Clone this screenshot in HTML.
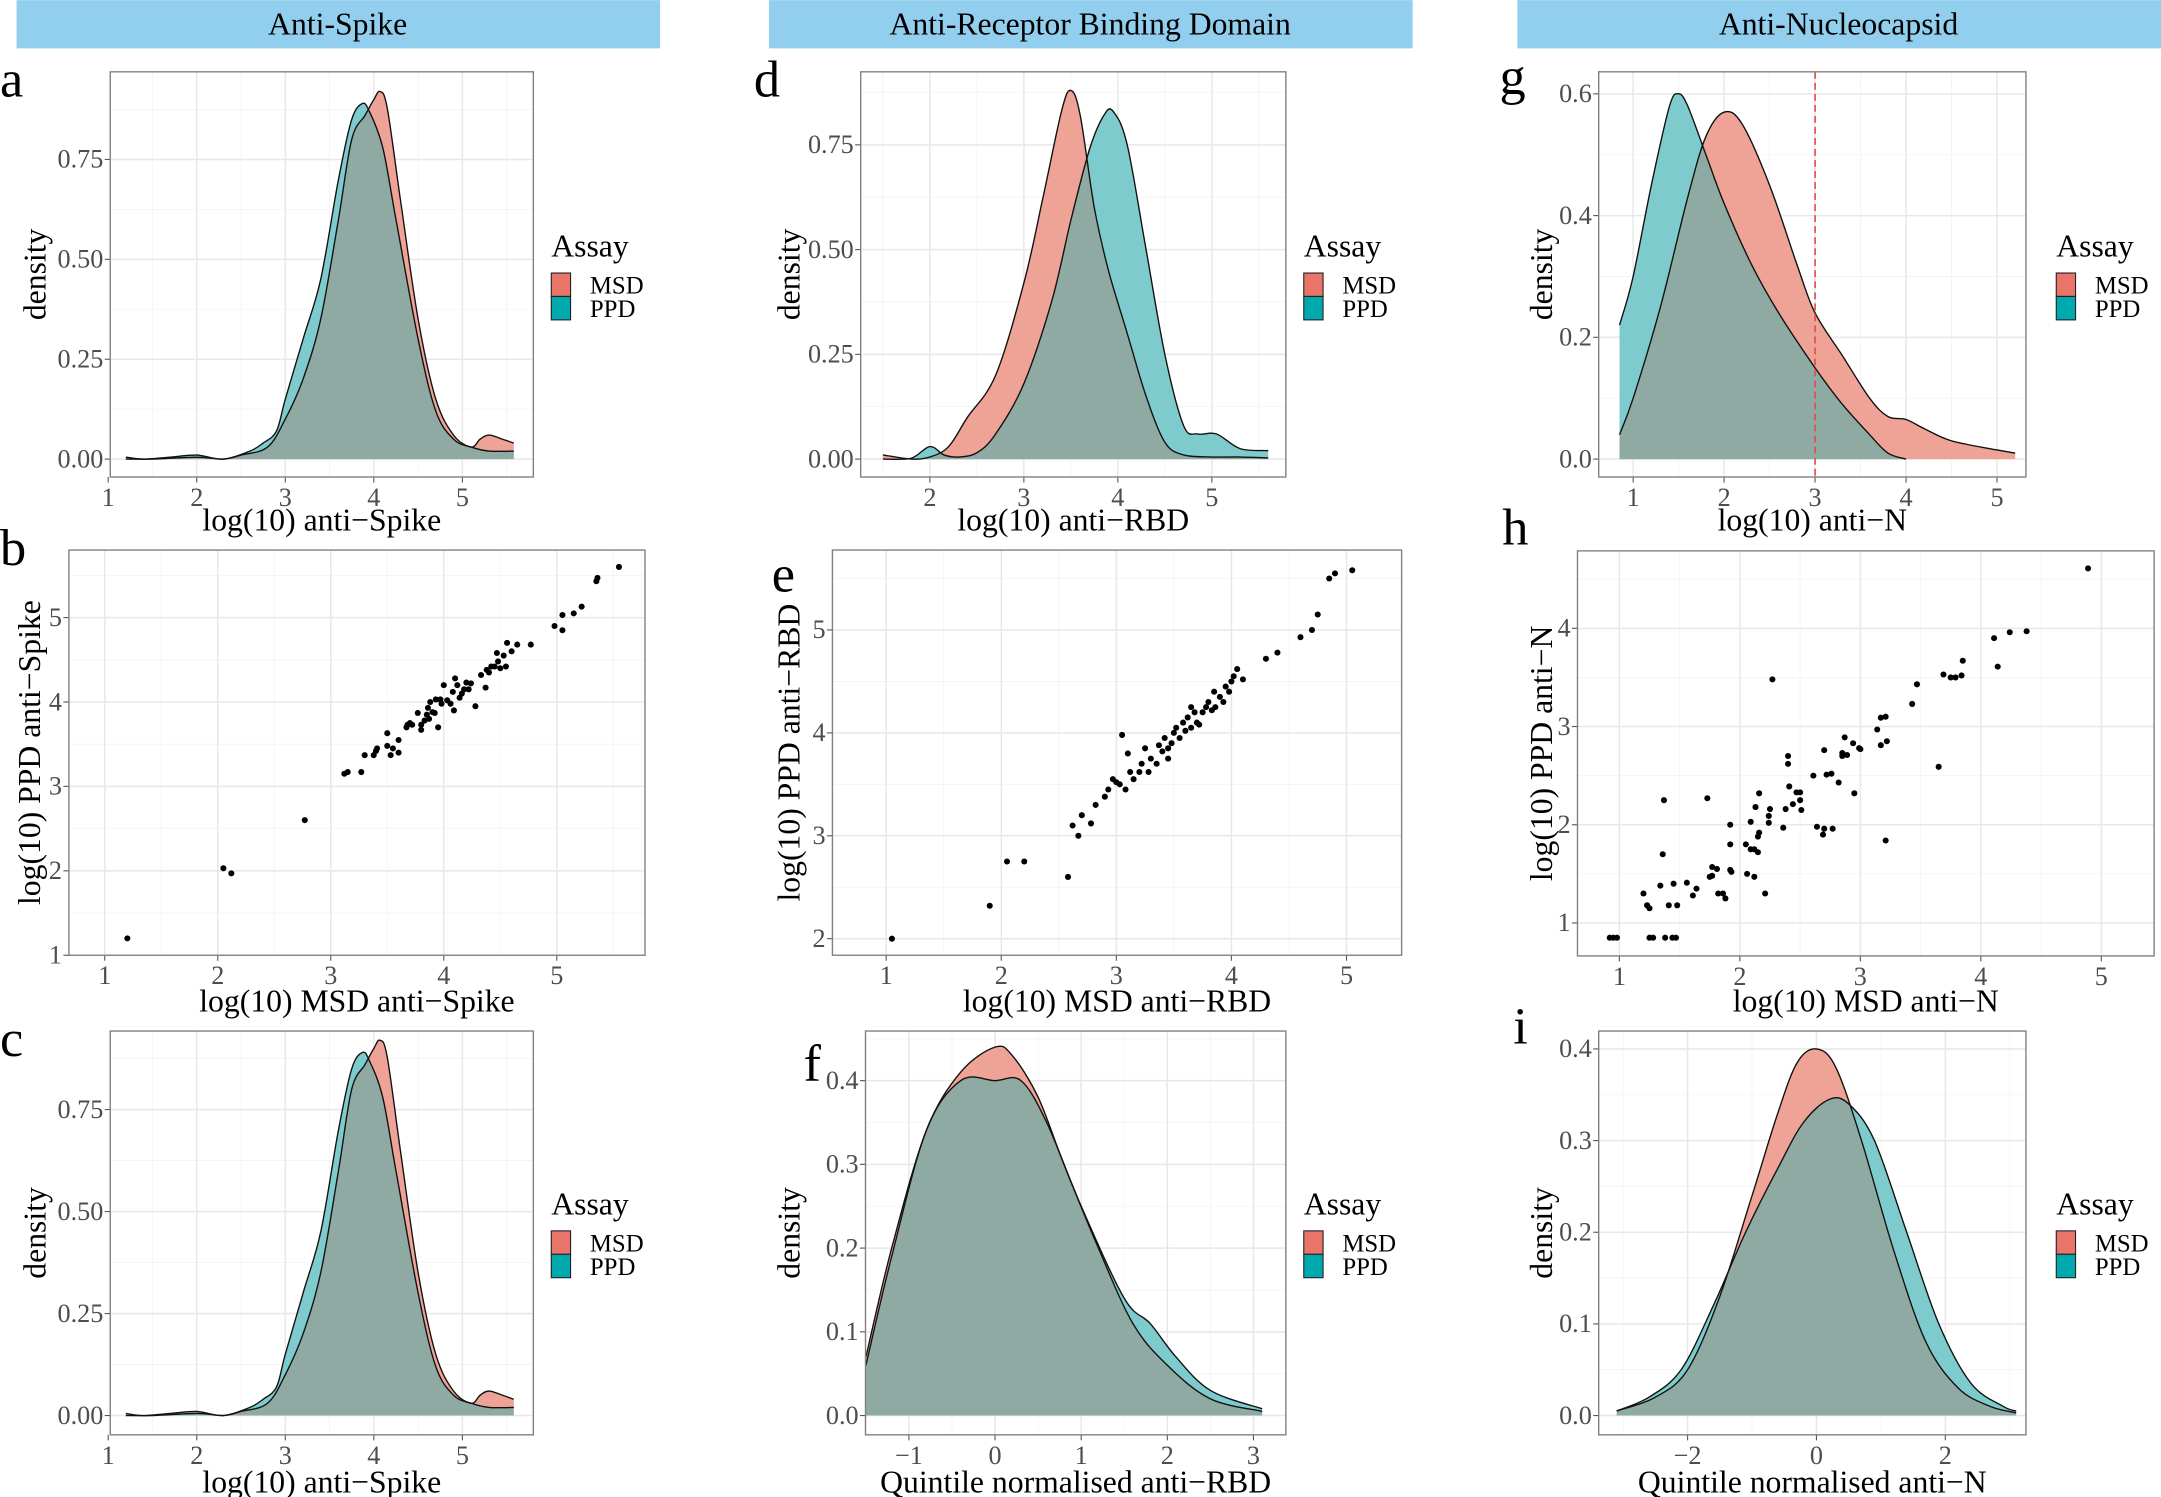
<!DOCTYPE html>
<html><head><meta charset="utf-8"><style>
html,body{margin:0;padding:0;background:#fff}
svg{display:block}
text{font-family:"Liberation Serif",serif}
</style></head><body>
<svg id="s" width="2161" height="1497" viewBox="0 0 1568 1086" xmlns="http://www.w3.org/2000/svg">
<defs id="defs"></defs>
<rect x="0" y="0" width="1568" height="1086" fill="#fff"/>
<rect x="12" y="0" width="467" height="35" fill="#92cfee"/>
<rect x="558" y="0" width="467" height="35" fill="#92cfee"/>
<rect x="1101" y="0" width="467" height="35" fill="#92cfee"/>
<text x="245" y="25" font-size="23" text-anchor="middle">Anti-Spike</text>
<text x="791" y="25" font-size="23" text-anchor="middle">Anti-Receptor Binding Domain</text>
<text x="1334" y="25" font-size="23" text-anchor="middle">Anti-Nucleocapsid</text>
<g font-size="38">
<text x="0" y="70">a</text><text x="0" y="410">b</text><text x="0" y="766">c</text>
<text x="547" y="70">d</text><text x="560" y="429">e</text><text x="583" y="784">f</text>
<text x="1088" y="68">g</text><text x="1090" y="395">h</text><text x="1098" y="757">i</text>
</g>
<g id="g"></g>
</svg>
<script>
var NS="http://www.w3.org/2000/svg",G=document.getElementById("g"),D=document.getElementById("defs"),CID=0;
function el(t,a,txt,par){var e=document.createElementNS(NS,t);for(var k in a)e.setAttribute(k,a[k]);if(txt!=null)e.textContent=txt;(par||G).appendChild(e);return e;}
function lin(c){var s=(c[3]-c[1])/(c[2]-c[0]);return function(v){return c[1]+s*(v-c[0]);};}
function smooth(pts){var d="M"+pts[0][0].toFixed(1)+","+pts[0][1].toFixed(1);
for(var i=0;i<pts.length-1;i++){var p0=pts[i-1]||pts[i],p1=pts[i],p2=pts[i+1],p3=pts[i+2]||p2;
var c1x=p1[0]+(p2[0]-p0[0])/6,c1y=p1[1]+(p2[1]-p0[1])/6,c2x=p2[0]-(p3[0]-p1[0])/6,c2y=p2[1]-(p3[1]-p1[1])/6;
d+=" C"+c1x.toFixed(1)+","+c1y.toFixed(1)+" "+c2x.toFixed(1)+","+c2y.toFixed(1)+" "+p2[0].toFixed(1)+","+p2[1].toFixed(1);}return d;}
function fmt(v,dec){return (v<0?"\u2212":"")+Math.abs(v).toFixed(dec);}
function panel(c){
 var X=lin(c.X),Y=lin(c.Y),b=c.box;
 el("rect",{x:b[0],y:b[1],width:b[2]-b[0],height:b[3]-b[1],fill:"#fff"});
 c.xm.forEach(function(v){var p=X(v);if(p>b[0]&&p<b[2])el("line",{x1:p,x2:p,y1:b[1],y2:b[3],stroke:"#f3f3f3","stroke-width":0.6});});
 c.ym.forEach(function(v){var p=Y(v);if(p>b[1]&&p<b[3])el("line",{y1:p,y2:p,x1:b[0],x2:b[2],stroke:"#f3f3f3","stroke-width":0.6});});
 c.xt.forEach(function(v){var p=X(v);if(p>=b[0]&&p<=b[2])el("line",{x1:p,x2:p,y1:b[1],y2:b[3],stroke:"#e8e8e8","stroke-width":1.1});
  el("line",{x1:p,x2:p,y1:b[3],y2:b[3]+4,stroke:"#555","stroke-width":0.8});
  el("text",{x:p,y:b[3]+21,"font-size":19,fill:"#4d4d4d","text-anchor":"middle"},fmt(v,0));});
 c.yt.forEach(function(v){var p=Y(v);if(p>=b[1]&&p<=b[3])el("line",{y1:p,y2:p,x1:b[0],x2:b[2],stroke:"#e8e8e8","stroke-width":1.1});
  el("line",{y1:p,y2:p,x1:b[0]-4,x2:b[0],stroke:"#555","stroke-width":0.8});
  el("text",{x:b[0]-5,y:p+6,"font-size":19,fill:"#4d4d4d","text-anchor":"end"},fmt(v,c.yd));});
 if(c.dens){var y0=Y(0),ds=[],fs=[];
  c.dens.forEach(function(s){var pts=s.map(function(q){return [X(q[0]),Y(q[1])];});
   var d=smooth(pts);ds.push(d);fs.push(d+" L"+pts[pts.length-1][0].toFixed(1)+","+y0+" L"+pts[0][0].toFixed(1)+","+y0+" Z");});
  el("path",{d:fs[0],fill:"#efa396"});el("path",{d:fs[1],fill:"#7ecbce"});
  var id="cp"+(CID++);var cp=el("clipPath",{id:id},null,D);el("path",{d:fs[1]},null,cp);
  el("path",{d:fs[0],fill:"#8faaa3","clip-path":"url(#"+id+")"});
  ds.forEach(function(d){el("path",{d:d,fill:"none",stroke:"#111","stroke-width":1});});}
 if(c.vline)el("line",{x1:X(c.vline),x2:X(c.vline),y1:b[1],y2:b[3],stroke:"#e0504a","stroke-width":1.2,"stroke-dasharray":"5,3"});
 if(c.pts)c.pts.forEach(function(q){el("circle",{cx:X(q[0]),cy:Y(q[1]),r:2.2,fill:"#000"});});
 el("rect",{x:b[0],y:b[1],width:b[2]-b[0],height:b[3]-b[1],fill:"none",stroke:"#7f7f7f","stroke-width":1});
 el("text",{x:(b[0]+b[2])/2,y:c.xty,"font-size":23,"text-anchor":"middle"},c.xl);
 el("text",{x:0,y:0,"font-size":23,"text-anchor":"middle",transform:"translate("+c.ylx+","+((b[1]+b[3])/2)+") rotate(-90)"},c.yl);
 if(c.leg){var L=c.leg;el("text",{x:L[0],y:L[1],"font-size":23},"Assay");
  el("rect",{x:L[0],y:L[1]+12,width:14,height:17,fill:"#e8746a",stroke:"#222","stroke-width":0.8});
  el("rect",{x:L[0],y:L[1]+29,width:14,height:17,fill:"#00a9ad",stroke:"#222","stroke-width":0.8});
  el("text",{x:L[0]+28,y:L[1]+27,"font-size":18},"MSD");el("text",{x:L[0]+28,y:L[1]+44,"font-size":18},"PPD");}
}
var aM=[[1.2,0],[1.5,0],[2,0.005],[2.3,0],[2.5,0.01],[2.8,0.03],[3.0,0.1],[3.2,0.2],[3.4,0.35],[3.6,0.6],[3.75,0.8],[3.9,0.86],[4.0,0.9],[4.07,0.92],[4.15,0.88],[4.3,0.65],[4.5,0.35],[4.7,0.15],[4.9,0.06],[5.1,0.03],[5.2,0.05],[5.3,0.06],[5.45,0.05],[5.58,0.04]];
var aP=[[1.2,0.005],[1.4,0],[1.7,0.005],[2.0,0.01],[2.3,0],[2.6,0.02],[2.75,0.04],[2.9,0.07],[3.0,0.15],[3.2,0.3],[3.4,0.45],[3.6,0.7],[3.75,0.85],[3.87,0.89],[3.95,0.87],[4.1,0.78],[4.25,0.6],[4.5,0.3],[4.7,0.12],[4.9,0.05],[5.1,0.03],[5.3,0.02],[5.58,0.02]];
var x15=[0.5,1.5,2.5,3.5,4.5,5.5];
var yd4=[0,0.25,0.5,0.75],ym4=[0.125,0.375,0.625,0.875];
panel({box:[80,52,387,346],X:[1,78.5,5,335.5],Y:[0,333,0.75,115.6],xt:[1,2,3,4,5],xm:x15,yt:yd4,ym:ym4,yd:2,dens:[aM,aP],xl:"log(10) anti\u2212Spike",xty:385,yl:"density",ylx:33,leg:[400,186]});
panel({box:[80,748,387,1041],X:[1,78.5,5,335.5],Y:[0,1027,0.75,805],xt:[1,2,3,4,5],xm:x15,yt:yd4,ym:ym4,yd:2,dens:[aM,aP],xl:"log(10) anti\u2212Spike",xty:1083,yl:"density",ylx:33,leg:[400,881]});
var bP=[[1.2,1.2],[2.05,2.03],[2.12,1.97],[2.77,2.6],[3.12,3.15],[3.15,3.17],[3.27,3.17],[3.3,3.37],[3.38,3.37],[3.4,3.42],[3.41,3.45],[3.5,3.63],[3.5,3.48],[3.53,3.37],[3.55,3.45],[3.6,3.55],[3.6,3.4],[3.67,3.7],[3.68,3.73],[3.7,3.75],[3.72,3.73],[3.77,3.87],[3.8,3.67],[3.8,3.73],[3.83,3.78],[3.85,3.85],[3.86,3.93],[3.87,3.8],[3.88,4.0],[3.9,3.88],[3.92,3.87],[3.93,4.03],[3.95,3.7],[3.97,4.03],[3.98,3.98],[4.0,4.2],[4.03,4.02],[4.06,3.98],[4.08,4.12],[4.09,3.9],[4.1,4.28],[4.12,4.2],[4.14,4.05],[4.16,4.1],[4.18,4.15],[4.2,4.23],[4.22,4.15],[4.24,4.22],[4.28,3.95],[4.33,4.32],[4.37,4.17],[4.38,4.38],[4.4,4.35],[4.42,4.42],[4.45,4.42],[4.47,4.58],[4.48,4.48],[4.5,4.4],[4.53,4.55],[4.55,4.42],[4.56,4.7],[4.6,4.6],[4.65,4.68],[4.77,4.68],[4.98,4.9],[5.05,5.03],[5.05,4.85],[5.15,5.05],[5.22,5.13],[5.35,5.43],[5.36,5.47],[5.55,5.6]];
panel({box:[50,399,468,693],X:[1,76,5,404],Y:[1,693,5,448],xt:[1,2,3,4,5],xm:x15,yt:[1,2,3,4,5],ym:x15,yd:0,pts:bP,xl:"log(10) MSD anti\u2212Spike",xty:734,yl:"log(10) PPD anti\u2212Spike",ylx:29});
var dM=[[1.5,0.01],[1.8,0],[2.0,0.005],[2.2,0.03],[2.4,0.1],[2.7,0.2],[3.0,0.42],[3.2,0.62],[3.4,0.83],[3.5,0.88],[3.6,0.82],[3.75,0.6],[3.9,0.45],[4.1,0.3],[4.3,0.15],[4.5,0.04],[4.7,0.01],[5.0,0.005],[5.3,0.005],[5.6,0.003]];
var dP=[[1.5,0],[1.8,0.002],[2.0,0.03],[2.15,0.01],[2.3,0.005],[2.5,0.015],[2.7,0.06],[3.0,0.18],[3.3,0.38],[3.5,0.57],[3.7,0.74],[3.85,0.82],[3.95,0.83],[4.1,0.75],[4.3,0.5],[4.5,0.25],[4.7,0.08],[4.85,0.06],[5.05,0.06],[5.3,0.025],[5.6,0.02]];
panel({box:[624.5,52,933,346],X:[2,674.7,5,879.3],Y:[0,333,0.75,105],xt:[2,3,4,5],xm:x15,yt:yd4,ym:ym4,yd:2,dens:[dM,dP],xl:"log(10) anti\u2212RBD",xty:385,yl:"density",ylx:580,leg:[946,186]});
var eP=[[1.05,2.0],[1.9,2.32],[2.05,2.75],[2.2,2.75],[2.58,2.6],[2.62,3.1],[2.67,3.0],[2.7,3.2],[2.78,3.12],[2.82,3.3],[2.9,3.38],[2.93,3.45],[2.97,3.55],[3.0,3.52],[3.03,3.5],[3.05,3.98],[3.08,3.45],[3.12,3.62],[3.15,3.55],[3.2,3.62],[3.22,3.7],[3.28,3.62],[3.3,3.75],[3.35,3.7],[3.37,3.88],[3.4,3.82],[3.42,3.95],[3.45,3.85],[3.48,3.9],[3.5,4.0],[3.52,4.05],[3.55,3.95],[3.58,4.1],[3.6,4.02],[3.62,4.15],[3.65,4.05],[3.68,4.2],[3.7,4.1],[3.72,4.08],[3.75,4.2],[3.78,4.25],[3.8,4.3],[3.83,4.22],[3.86,4.25],[3.9,4.35],[3.93,4.3],[3.95,4.45],[3.98,4.4],[4.0,4.5],[4.02,4.55],[4.05,4.62],[4.3,4.72],[4.4,4.78],[4.6,4.93],[4.7,5.0],[4.75,5.15],[4.85,5.5],[4.9,5.55],[5.05,5.58],[3.1,3.8],[3.25,3.85],[3.45,3.75],[3.65,4.25],[3.85,4.4],[4.1,4.52]];
panel({box:[604,399,1017,693],X:[1,643,5,977],Y:[2,681,5,457],xt:[1,2,3,4,5],xm:x15,yt:[2,3,4,5],ym:[1.5,2.5,3.5,4.5,5.5],yd:0,pts:eP,xl:"log(10) MSD anti\u2212RBD",xty:734,yl:"log(10) PPD anti\u2212RBD",ylx:580});
var fM=[[-1.5,0.07],[-1.2,0.2],[-0.8,0.34],[-0.4,0.41],[0,0.44],[0.2,0.43],[0.5,0.38],[0.8,0.3],[1.2,0.2],[1.6,0.11],[2.0,0.06],[2.5,0.02],[3.1,0.005]];
var fP=[[-1.5,0.06],[-1.2,0.19],[-0.8,0.34],[-0.4,0.40],[0,0.40],[0.3,0.40],[0.6,0.35],[1.0,0.25],[1.5,0.14],[1.8,0.11],[2.1,0.07],[2.5,0.03],[3.1,0.008]];
var y04=[0,0.1,0.2,0.3,0.4],ym04=[0.05,0.15,0.25,0.35,0.45];
panel({box:[628,748,933,1041],X:[0,722,1,784.5],Y:[0,1027,0.4,784],xt:[-1,0,1,2,3],xm:[-1.5,-0.5,0.5,1.5,2.5],yt:y04,ym:ym04,yd:1,dens:[fM,fP],xl:"Quintile normalised anti\u2212RBD",xty:1083,yl:"density",ylx:580,leg:[946,881]});
var gM=[[0.85,0.04],[1.0,0.1],[1.3,0.25],[1.6,0.43],[1.8,0.53],[2.0,0.57],[2.2,0.55],[2.5,0.45],[2.8,0.32],[3.0,0.24],[3.3,0.17],[3.6,0.1],[3.8,0.07],[4.0,0.065],[4.2,0.05],[4.5,0.03],[5.0,0.015],[5.2,0.01]];
var gP=[[0.85,0.22],[1.0,0.3],[1.2,0.45],[1.4,0.58],[1.5,0.6],[1.6,0.58],[1.8,0.5],[2.0,0.42],[2.3,0.32],[2.6,0.24],[3.0,0.15],[3.3,0.09],[3.6,0.04],[3.8,0.01],[4.0,0.0]];
panel({box:[1160,52,1470,346],X:[1,1185,5,1449],Y:[0,333,0.6,68],xt:[1,2,3,4,5],xm:x15,yt:[0,0.2,0.4,0.6],ym:[0.1,0.3,0.5],yd:1,dens:[gM,gP],vline:3,xl:"log(10) anti\u2212N",xty:385,yl:"density",ylx:1126,leg:[1492,186]});
var hP=[[0.92,0.85],[0.95,0.85],[0.98,0.85],[1.25,0.85],[1.28,0.85],[1.38,0.85],[1.44,0.85],[1.47,0.85],[1.2,1.3],[1.23,1.18],[1.25,1.15],[1.34,1.38],[1.37,2.25],[1.36,1.7],[1.41,1.18],[1.45,1.4],[1.48,1.18],[1.56,1.41],[1.61,1.28],[1.64,1.35],[1.73,2.27],[1.75,1.47],[1.77,1.48],[1.77,1.57],[1.81,1.55],[1.82,1.3],[1.86,1.3],[1.88,1.25],[1.92,2.0],[1.92,1.8],[1.92,1.54],[1.93,1.52],[2.05,1.8],[2.06,1.5],[2.09,2.03],[2.09,1.75],[2.12,1.75],[2.12,1.47],[2.13,2.18],[2.15,1.72],[2.15,1.88],[2.16,1.92],[2.16,2.32],[2.21,1.3],[2.24,2.09],[2.24,2.02],[2.25,2.16],[2.27,3.48],[2.36,1.97],[2.38,2.16],[2.4,2.7],[2.4,2.62],[2.41,2.39],[2.44,2.21],[2.47,2.33],[2.5,2.33],[2.5,2.25],[2.51,2.15],[2.61,2.5],[2.64,1.98],[2.69,1.9],[2.7,1.96],[2.7,2.76],[2.72,2.51],[2.76,2.52],[2.77,1.96],[2.82,2.43],[2.85,2.73],[2.85,2.7],[2.87,2.89],[2.89,2.71],[2.94,2.83],[2.95,2.32],[2.99,2.78],[3.0,2.77],[3.14,2.97],[3.17,2.81],[3.17,3.09],[3.21,3.1],[3.21,1.84],[3.22,2.85],[3.43,3.23],[3.47,3.43],[3.65,2.59],[3.69,3.53],[3.75,3.5],[3.79,3.5],[3.84,3.52],[3.85,3.67],[4.11,3.9],[4.14,3.61],[4.24,3.96],[4.38,3.97],[4.89,4.61]];
panel({box:[1144.6,399.6,1563,693.5],X:[1,1175,5,1524.7],Y:[1,669.6,4,455.8],xt:[1,2,3,4,5],xm:x15,yt:[1,2,3,4],ym:[1.5,2.5,3.5,4.5],yd:0,pts:hP,xl:"log(10) MSD anti\u2212N",xty:734,yl:"log(10) PPD anti\u2212N",ylx:1126});
var iM=[[-3.1,0.005],[-2.5,0.02],[-2,0.05],[-1.5,0.13],[-1.0,0.24],[-0.6,0.33],[-0.3,0.385],[0,0.40],[0.3,0.38],[0.7,0.30],[1.2,0.18],[1.7,0.08],[2.2,0.03],[2.7,0.01],[3.1,0.003]];
var iP=[[-3.1,0.005],[-2.6,0.02],[-2.1,0.05],[-1.6,0.12],[-1.1,0.2],[-0.6,0.27],[-0.2,0.32],[0.2,0.345],[0.5,0.34],[0.9,0.3],[1.4,0.2],[1.9,0.1],[2.4,0.035],[2.9,0.01],[3.1,0.005]];
panel({box:[1160,748,1470,1041],X:[0,1318,2,1411.5],Y:[0,1027,0.4,761],xt:[-2,0,2],xm:[-3,-1,1,3],yt:y04,ym:ym04,yd:1,dens:[iM,iP],xl:"Quintile normalised anti\u2212N",xty:1083,yl:"density",ylx:1126,leg:[1492,881]});
</script>
</body></html>
